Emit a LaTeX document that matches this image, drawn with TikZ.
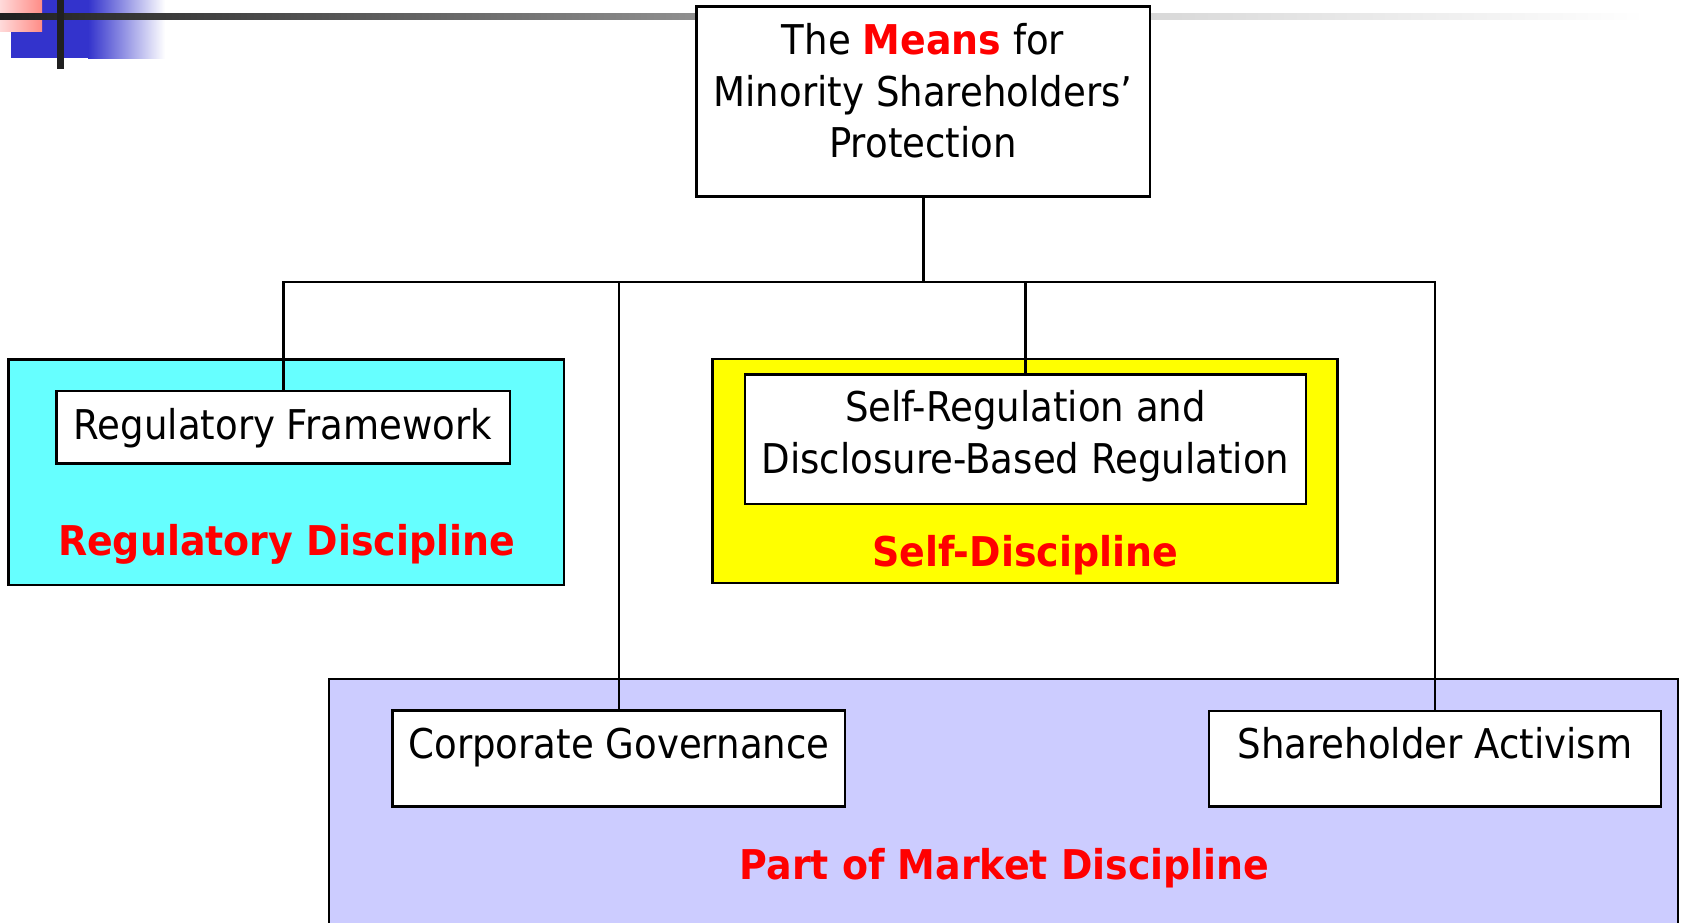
\documentclass[tikz,border=0pt]{standalone}
\usepackage{fontspec}
\newfontfamily\tahreg[FakeStretch=0.905]{DejaVu Sans}
\newfontfamily\tahbld[FakeStretch=0.925]{DejaVu Sans}
\newcommand{\mlines}[1]{\vtop{\baselineskip=51.5pt\lineskiplimit=-100pt\halign{\hfil##\hfil\cr#1\crcr}}}
\definecolor{cyanbox}{HTML}{66FFFF}
\definecolor{yellowbox}{HTML}{FFFF00}
\definecolor{lavbox}{HTML}{CCCCFF}
\definecolor{hdrblue}{HTML}{3333CC}
\definecolor{hdrpinkA}{HTML}{FFDADA}
\definecolor{hdrpinkB}{HTML}{FF8C86}
\definecolor{bardark}{HTML}{202020}
\definecolor{barmid}{HTML}{D8D8D8}
\definecolor{txtred}{HTML}{FF0000}
\tikzset{
  grp/.style={draw=black, line width=2.7pt, inner sep=0pt, rectangle},
  innerbox/.style={draw=black, fill=white, line width=2.7pt, inner sep=0pt, rectangle},
  conn/.style={draw=black, line width=2.3pt},
  lbl/.style={anchor=base, inner sep=0pt, font=\tahreg\fontsize{41pt}{51.5pt}\selectfont},
  dlbl/.style={anchor=base, inner sep=0pt, text=txtred, font=\tahbld\bfseries\fontsize{41pt}{51.5pt}\selectfont},
}
\begin{document}
\begin{tikzpicture}[x=1pt, y=-1pt]
\useasboundingbox (0,0) rectangle (1682,923);
\clip (0,0) rectangle (1682,923);
% header decoration
\fill[hdrblue] (11,0) rectangle (88,58);
\shade[left color=hdrblue, right color=white] (88,0) rectangle (165,59);
\shade[left color=hdrpinkA, right color=hdrpinkB] (0,0) rectangle (42,32);
\shade[left color=bardark, right color=barmid] (0,13.3) rectangle (1150,19.7);
\shade[left color=barmid, right color=white] (1150,13.3) rectangle (1645,19.7);
\fill[bardark] (57,0) rectangle (64,69);
% group boxes
\node[grp, fill=cyanbox, minimum width=555.7pt, minimum height=225.7pt] (regbox) at (286.15,472.15) {};
\node[grp, fill=yellowbox, minimum width=625pt, minimum height=224pt] (selfbox) at (1024.8,471) {};
\node[grp, fill=lavbox, minimum width=1349pt, minimum height=261pt] (mktbox) at (1003.5,809.5) {};
% inner boxes
\node[innerbox, minimum width=453.3pt, minimum height=190pt] (top) at (923.35,101.7) {};
\node[innerbox, minimum width=453.3pt, minimum height=72.3pt] (regfw) at (283.35,427.15) {};
\node[innerbox, minimum width=561pt, minimum height=129.3pt] (selfreg) at (1025.5,439.35) {};
\node[innerbox, minimum width=452.3pt, minimum height=96pt] (corp) at (618.85,758.7) {};
\node[innerbox, minimum width=452pt, minimum height=95.7pt] (share) at (1435,758.85) {};
% connectors
\coordinate (busY) at (0,282.3);
\draw[conn] (top.south) -- (top.south |- busY);
\draw[conn] (regfw.north) -- (regfw.north |- busY) -- (share.north |- busY) -- (share.north);
\draw[conn] (corp.north) -- (corp.north |- busY);
\draw[conn] (selfreg.north) -- (selfreg.north |- busY);
% texts
\node[lbl] (toptext) at (923,55) {\mlines{The {\tahbld\bfseries\color{txtred}Means} for\cr Minority Shareholders’\cr Protection}};
\node[lbl] (rfwtext) at (283,439) {Regulatory Framework};
\node[dlbl] (regdisc) at (286.5,555) {Regulatory Discipline};
\node[lbl] (selfregtext) at (1025.5,421.7) {\mlines{Self-Regulation and\cr Disclosure-Based Regulation}};
\node[dlbl] (selfdisc) at (1025,566.7) {Self-Discipline};
\node[lbl] (corptext) at (619,758.3) {Corporate Governance};
\node[lbl] (sharetext) at (1435,758.3) {Shareholder Activism};
\node[dlbl] (mktdisc) at (1004.7,879) {Part of Market Discipline};
\end{tikzpicture}
\end{document}
